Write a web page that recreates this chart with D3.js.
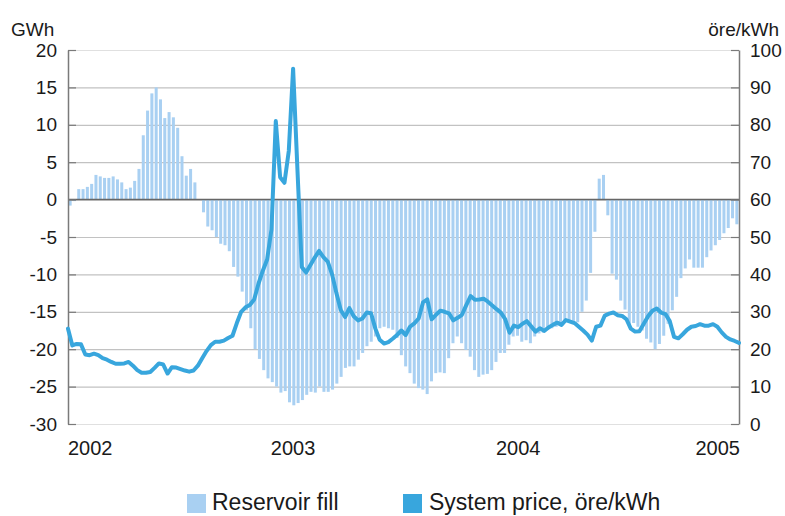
<!DOCTYPE html>
<html>
<head>
<meta charset="utf-8">
<script src="https://cdn.jsdelivr.net/npm/d3@7"></script>
<style>
  html, body { margin: 0; padding: 0; background: #ffffff; }
  svg { display: block; }
  text { font-family: "Liberation Sans", Arial, Helvetica, sans-serif; fill: #1a1a1a; }
</style>
</head>
<body>
<svg id="chart" width="785" height="516"></svg>
<script>
// ---- data ----
const yearLabels = ["2002", "2003", "2004", "2005"];
const yearStartWeek = [0, 52, 104, 156];
const leftTicks = [20, 15, 10, 5, 0, -5, -10, -15, -20, -25, -30];
const rightTicks = [100, 90, 80, 70, 60, 50, 40, 30, 20, 10, 0];
const seriesNames = ["Reservoir fill", "System price, öre/kWh"];

// weekly reservoir fill deviation, GWh (2002 w1 .. 2004 w52)
const reservoirFill = [
  -0.8, -0.2, 1.4, 1.4, 1.7, 2.1, 3.3, 3.1, 2.9, 2.9,
  3.1, 2.7, 2.3, 1.4, 1.6, 2.5, 4.1, 8.6, 11.9, 14.2,
  15.0, 13.4, 10.9, 11.7, 11.0, 9.6, 5.8, 3.2, 4.1, 2.3,
  0, -1.7, -3.6, -4.1, -5.0, -5.9, -6.1, -6.9, -9.0, -10.3,
  -12.3, -14.8, -17.2, -20.0, -21.3, -22.8, -23.9, -24.4, -25.0, -25.8,
  -25.6, -27.1, -27.5, -27.2, -26.8, -26.1, -25.7, -25.8, -25.0, -25.7,
  -25.7, -25.4, -24.6, -23.7, -22.5, -22.3, -22.3, -21.4, -20.5, -19.6,
  -19.0, -18.3, -17.2, -17.0, -17.2, -17.4, -18.5, -20.8, -22.3, -23.2,
  -24.6, -25.2, -25.4, -26.0, -24.3, -23.2, -23.1, -23.2, -21.2, -19.2,
  -18.3, -19.2, -20.1, -21.0, -22.8, -23.7, -23.4, -23.3, -22.8, -21.7,
  -20.5, -20.5, -19.4, -18.3, -18.2, -19.0, -18.8, -19.2, -18.3, -17.9,
  -17.8, -17.4, -17.2, -17.0, -16.5, -16.3, -16.1, -16.4, -16.4, -15.0,
  -13.5, -9.8, -4.3, 2.8, 3.3, -2.1, -9.9, -10.7, -13.5, -14.7,
  -16.8, -16.5, -17.0, -17.5, -18.6, -19.1, -20.0, -19.3, -18.2, -16.6,
  -14.8, -13.0, -10.5, -9.2, -8.0, -9.1, -9.1, -9.1, -7.7, -6.8,
  -6.1, -5.4, -4.5, -3.8, -2.5, -3.3
];

// weekly system price, öre/kWh
const systemPrice = [
  25.5, 21.0, 21.4, 21.3, 18.6, 18.4, 18.8, 18.4, 17.6, 17.2,
  16.6, 16.1, 16.1, 16.2, 16.6, 15.6, 14.4, 13.7, 13.7, 13.9,
  15.0, 16.2, 15.9, 13.5, 15.2, 15.1, 14.7, 14.3, 14.0, 14.3,
  15.6, 17.6, 19.5, 21.1, 22.0, 22.0, 22.3, 23.0, 23.6, 27.0,
  30.0, 31.2, 31.8, 33.3, 37.5, 41.0, 44.0, 52.0, 81.0, 66.0,
  64.5, 73.0, 95.0, 68.0, 42.0, 40.5, 42.5, 44.5, 46.3, 44.6,
  43.4, 40.0, 35.0, 30.5, 28.6, 31.0, 28.8, 27.7, 28.2, 29.8,
  29.6, 25.5, 22.5, 21.5, 21.9, 22.8, 23.8, 25.0, 23.8, 26.0,
  26.9, 28.2, 32.5, 33.3, 28.0, 29.2, 30.3, 30.0, 29.6, 27.7,
  28.4, 29.2, 31.8, 34.2, 33.2, 33.3, 33.5, 32.7, 31.7, 30.7,
  29.8, 28.0, 24.4, 26.3, 25.9, 26.8, 27.5, 26.1, 24.7, 25.6,
  24.9, 25.8, 26.5, 27.1, 26.5, 27.8, 27.4, 27.0, 26.0, 25.0,
  23.9, 22.3, 26.0, 26.3, 29.0, 29.5, 29.8, 29.1, 28.9, 28.0,
  25.5, 24.7, 24.8, 26.8, 28.8, 30.3, 30.9, 29.8, 29.4, 27.5,
  23.3, 22.9, 24.0, 25.2, 26.0, 26.2, 26.7, 26.3, 26.3, 26.7,
  26.0, 24.5, 23.3, 22.6, 22.2, 21.7
];

const weeks = reservoirFill.map((d, i) => "w" + i);

// ---- layout ----
const L = 68, R = 739, T = 50, B = 424;
const barColor = "#a9d0f2";
const lineColor = "#38a6dd";
const svg = d3.select("#chart");

const xBand = d3.scaleBand().domain(weeks).range([L, R]).paddingInner(0.3).paddingOuter(0.15);
const xPoint = d3.scalePoint().domain(weeks).range([L, R]);
const yL = d3.scaleLinear().domain([-30, 20]).range([B, T]);
const yR = d3.scaleLinear().domain([0, 100]).range([B, T]);

// gridlines
svg.append("g").selectAll("line").data(leftTicks).join("line")
  .attr("x1", L).attr("x2", R)
  .attr("y1", d => yL(d) + 0.5).attr("y2", d => yL(d) + 0.5)
  .attr("stroke", d => (d === 20 || d === -30) ? "#e0e0e0" : "#c2c2c2")
  .attr("stroke-width", 1.2);

// bars
svg.append("g").selectAll("rect").data(reservoirFill).join("rect")
  .attr("x", (d, i) => xBand(weeks[i]))
  .attr("width", xBand.bandwidth())
  .attr("y", d => yL(Math.max(0, d)))
  .attr("height", d => Math.abs(yL(d) - yL(0)))
  .attr("fill", barColor);

// zero line
svg.append("line")
  .attr("x1", L).attr("x2", R)
  .attr("y1", yL(0)).attr("y2", yL(0))
  .attr("stroke", "#666").attr("stroke-width", 1.5);

// axes
const axL = svg.append("g").attr("transform", `translate(${L},0)`)
  .call(d3.axisLeft(yL).tickValues(leftTicks).tickSize(-8).tickSizeOuter(0).tickPadding(11).tickFormat(d3.format("d")));
const axR = svg.append("g").attr("transform", `translate(${R},0)`)
  .call(d3.axisRight(yR).tickValues(rightTicks).tickSize(-8).tickSizeOuter(0).tickPadding(11).tickFormat(d3.format("d")));
[axL, axR].forEach(ax => {
  ax.select(".domain").attr("stroke", "#7a7a7a").attr("stroke-width", 1.5);
  ax.selectAll(".tick line").attr("stroke", "#7a7a7a").attr("stroke-width", 1.2);
  ax.selectAll(".tick text").style("font-size", "19px").attr("fill", "#1a1a1a")
    .style("font-family", "'Liberation Sans', Arial, sans-serif");
});
axL.selectAll(".tick text").text(d => d < 0 ? "-" + Math.abs(d) : d);

// price line
const line = d3.line()
  .x((d, i) => xPoint(weeks[i]))
  .y(d => yR(d))
  .curve(d3.curveLinear);
svg.append("path")
  .datum(systemPrice)
  .attr("d", line)
  .attr("fill", "none")
  .attr("stroke", lineColor)
  .attr("stroke-width", 4)
  .attr("stroke-linejoin", "round")
  .attr("stroke-linecap", "round");

// year labels
const step = (R - L) / (weeks.length - 1);
svg.append("g").selectAll("text").data(yearLabels).join("text")
  .attr("x", (d, i) => Math.min(R + 1, L + yearStartWeek[i] * step))
  .attr("y", 455)
  .attr("text-anchor", (d, i) => i === 0 ? "start" : (i === yearLabels.length - 1 ? "end" : "middle"))
  .style("font-size", "20px")
  .text(d => d);

// unit labels
svg.append("text").attr("x", 11).attr("y", 36).style("font-size", "19px").text("GWh");
svg.append("text").attr("x", 779).attr("y", 36).attr("text-anchor", "end").style("font-size", "19px").text("öre/kWh");

// legend
const legend = svg.append("g");
const legendItems = [
  { name: seriesNames[0], color: barColor, sx: 187, tx: 212 },
  { name: seriesNames[1], color: lineColor, sx: 403, tx: 429 }
];
legend.selectAll("rect").data(legendItems).join("rect")
  .attr("x", d => d.sx).attr("y", 494).attr("width", 19).attr("height", 19)
  .attr("fill", d => d.color);
legend.selectAll("text").data(legendItems).join("text")
  .attr("x", d => d.tx).attr("y", 510)
  .style("font-size", "23px")
  .text(d => d.name);
</script>
</body>
</html>
